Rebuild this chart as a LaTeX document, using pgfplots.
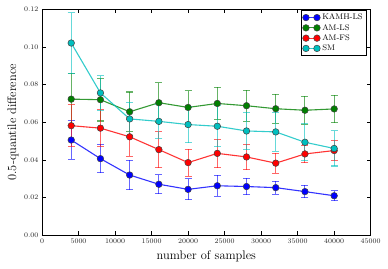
\documentclass[border=0pt]{standalone}
\usepackage{pgfplots}
\pgfplotsset{compat=1.18}
\usepackage{pgfplotstable}

\definecolor{mpblue}{rgb}{0,0,1}
\definecolor{mpgreen}{rgb}{0,0.5,0}
\definecolor{mpred}{rgb}{1,0,0}
\definecolor{mpcyan}{rgb}{0,0.75,0.75}

\pgfplotstableread{
x     kam    kame   am     ame    fs     fse    sm     sme
4000  0.0506 0.0103 0.0723 0.0138 0.0582 0.0110 0.1021 0.0160
8000  0.0407 0.0076 0.0720 0.0113 0.0569 0.0097 0.0756 0.0092
12000 0.0320 0.0078 0.0656 0.0105 0.0523 0.0103 0.0618 0.0088
16000 0.0271 0.0050 0.0704 0.0105 0.0455 0.0095 0.0605 0.0090
20000 0.0244 0.0056 0.0679 0.0089 0.0386 0.0072 0.0588 0.0097
24000 0.0263 0.0056 0.0700 0.0086 0.0435 0.0076 0.0579 0.0110
28000 0.0259 0.0043 0.0688 0.0083 0.0416 0.0068 0.0554 0.0099
32000 0.0253 0.0034 0.0672 0.0076 0.0383 0.0053 0.0549 0.0103
36000 0.0232 0.0033 0.0664 0.0075 0.0432 0.0046 0.0494 0.0099
40000 0.0210 0.0027 0.0671 0.0073 0.0450 0.0054 0.0461 0.0093
}\data

\pgfplotsset{
  myline/.style={
    color=#1, line width=1.1pt, draw opacity=0.8,
    mark=*, mark size=3.3pt,
    mark options={fill=#1, draw=black!75, line width=0.5pt, draw opacity=1, fill opacity=1},
    error bars/y dir=both, error bars/y explicit,
    error bars/error bar style={line width=1.05pt, draw=#1, draw opacity=0.6},
    error bars/error mark options={rotate=90, mark size=3.5pt, line width=1.05pt, draw=#1, draw opacity=0.6},
  },
}

\begin{document}
\begin{tikzpicture}
\begin{axis}[
  scale only axis,
  width=328.7pt, height=226pt,
  xmin=0, xmax=45000, ymin=0, ymax=0.12,
  xtick={0,5000,...,45000},
  ytick={0,0.02,...,0.12},
  scaled x ticks=false, scaled y ticks=false,
  xticklabel style={/pgf/number format/1000 sep={}, font=\fontsize{6.7}{8}\selectfont, text=black!85},
  yticklabel style={/pgf/number format/fixed, /pgf/number format/fixed zerofill, /pgf/number format/precision=2, font=\fontsize{6.7}{8}\selectfont, text=black!85},
  tick align=inside,
  major tick length=4pt,
  tick style={black, line width=0.6pt},
  axis line style={black, line width=0.9pt},
  xlabel={number of samples},
  ylabel={0.5-quantile difference},
  every axis x label/.style={at={(axis description cs:0.5,0)}, yshift=-21pt, anchor=center, font=\fontsize{12.4}{14}\selectfont},
  every axis y label/.style={at={(axis description cs:0,0.5)}, xshift=-29pt, rotate=90, anchor=center, font=\fontsize{12.4}{14}\selectfont},
  legend style={at={(rel axis cs:1,1)}, anchor=north east, xshift=-4pt, yshift=-0.7pt,
    draw=black, line width=0.9pt, font=\fontsize{8.1}{9}\selectfont, row sep=-1pt,
    inner sep=1.5pt},
  legend cell align=left,
  legend image code/.code={\draw[#1] plot coordinates {(0pt,0pt) (11pt,0pt)};},
]
\addplot[myline=mpblue] table[x=x, y=kam, y error=kame] {\data};
\addlegendentry{KAMH-LS}
\addplot[myline=mpgreen] table[x=x, y=am, y error=ame] {\data};
\addlegendentry{AM-LS}
\addplot[myline=mpred] table[x=x, y=fs, y error=fse] {\data};
\addlegendentry{AM-FS}
\addplot[myline=mpcyan] table[x=x, y=sm, y error=sme] {\data};
\addlegendentry{SM}
\coordinate (O) at (rel axis cs:0,0);
\end{axis}
\path (O) ++(-42pt,-32.7pt) rectangle ++(388pt,268pt);
\end{tikzpicture}
\end{document}
